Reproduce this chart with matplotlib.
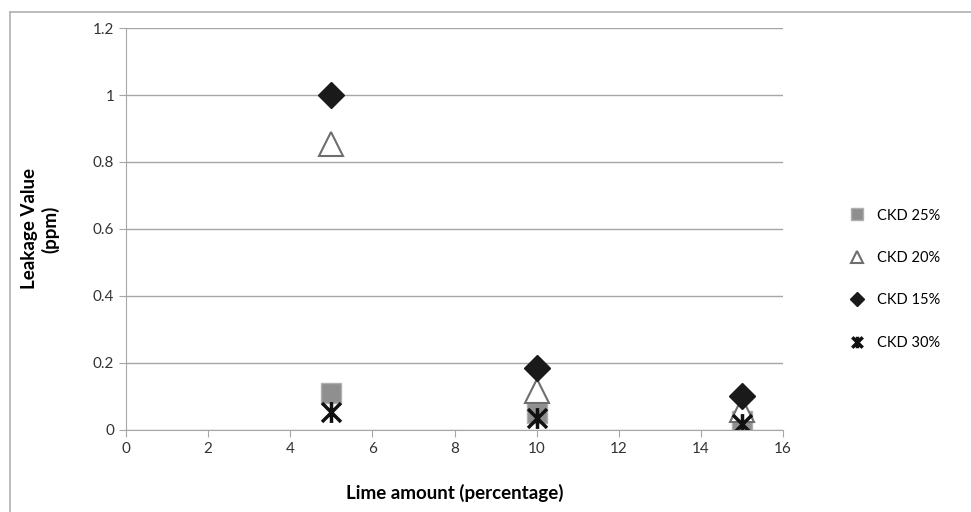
import matplotlib
matplotlib.use("Agg")
import matplotlib.pyplot as plt
from matplotlib.lines import Line2D
from matplotlib.path import Path

plt.rcParams['font.family'] = ['Lato', 'DejaVu Sans']

lime = [5, 10, 15]
ckd25 = [0.11, 0.05, 0.028]
ckd20 = [0.855, 0.115, 0.06]
ckd15 = [1.0, 0.185, 0.1]
ckd30 = [0.055, 0.035, 0.018]
series_labels = ['CKD 25%', 'CKD 20%', 'CKD 15%', 'CKD 30%']

# X with a vertical stroke, like the spreadsheet "star" marker
star = Path([(-1, -1), (1, 1), (-1, 1), (1, -1), (0, -1.1), (0, 1.1)],
            [Path.MOVETO, Path.LINETO, Path.MOVETO, Path.LINETO, Path.MOVETO, Path.LINETO])

fig = plt.figure(figsize=(9.71, 5.12), dpi=100)
ax = fig.add_axes([0.1298, 0.1602, 0.6766, 0.7851])

ax.plot(lime, ckd25, ls='none', marker='s', ms=15, mfc='#8f8f8f', mec='#b0b0b0', mew=1, label=series_labels[0])
ax.plot(lime, ckd20, ls='none', marker='^', ms=17, mfc='white', mec='#6e6e6e', mew=1.5, label=series_labels[1])
ax.plot(lime, ckd15, ls='none', marker='D', ms=13, mfc='#1a1a1a', mec='#1a1a1a', label=series_labels[2])
ax.plot(lime, ckd30, ls='none', marker=star, ms=15, mec='#111111', mew=2.5, label=series_labels[3])

ax.set_xlim(0, 16)
ax.set_ylim(0, 1.2)
ax.set_xticks(range(0, 17, 2))
ax.set_yticks([0, 0.2, 0.4, 0.6, 0.8, 1, 1.2])
ax.set_yticklabels(['0', '0.2', '0.4', '0.6', '0.8', '1', '1.2'])
ax.yaxis.grid(True, color='#a6a6a6', lw=1)
ax.set_axisbelow(True)
for s in ['top', 'right']:
    ax.spines[s].set_visible(False)
for s in ['left', 'bottom']:
    ax.spines[s].set_color('#a6a6a6')
ax.tick_params(axis='both', colors='#a6a6a6', labelcolor='#333333', labelsize=11, length=5)

ax.set_xlabel('Lime amount (percentage)', fontsize=13.5, fontweight='bold', labelpad=20)
ax.set_ylabel('Leakage Value\n(ppm)', fontsize=13.5, fontweight='bold', labelpad=24)

ax.legend(loc='center left', bbox_to_anchor=(1.07, 0.375), frameon=False, markerscale=0.55,
          labelspacing=1.95, fontsize=10.5, handletextpad=0.4)

# outer chart frame
fig.add_artist(Line2D([0.0103, 0.0103], [0, 0.977], color='#b0b0b0', lw=1.2, transform=fig.transFigure))
fig.add_artist(Line2D([0.0103, 1], [0.977, 0.977], color='#b0b0b0', lw=1.2, transform=fig.transFigure))

fig.savefig('out.png', dpi=100)
